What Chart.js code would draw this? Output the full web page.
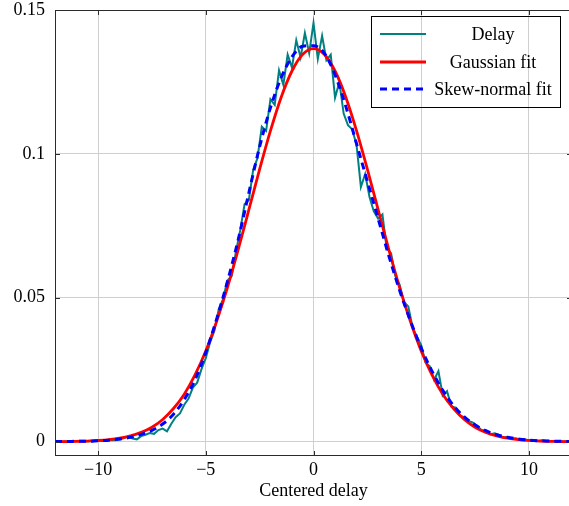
<!DOCTYPE html>
<html>
<head>
<meta charset="utf-8">
<script src="https://cdn.jsdelivr.net/npm/chart.js@4.4.1/dist/chart.umd.min.js"></script>
<style>
  html, body { margin: 0; padding: 0; background: #fff; overflow: hidden; }
  #wrap { width: 569px; height: 506px; overflow: hidden; }
</style>
</head>
<body>
<div id="wrap"><canvas id="delayChart" width="572" height="506"></canvas></div>
<script>
// histogram of the centered delay (0.2 step)
const delayX = [
  -12.0, -11.8, -11.6, -11.4, -11.2, -11.0, -10.8, -10.6, -10.4, -10.2,
  -10.0, -9.8, -9.6, -9.4, -9.2, -9.0, -8.8, -8.6, -8.4, -8.2,
  -8.0, -7.8, -7.6, -7.4, -7.2, -7.0, -6.8, -6.6, -6.4, -6.2,
  -6.0, -5.8, -5.6, -5.4, -5.2, -5.0, -4.8, -4.6, -4.4, -4.2,
  -4.0, -3.8, -3.6, -3.4, -3.2, -3.0, -2.8, -2.6, -2.4, -2.2,
  -2.0, -1.8, -1.6, -1.4, -1.2, -1.0, -0.8, -0.6, -0.4, -0.2,
  0.0, 0.2, 0.4, 0.6, 0.8, 1.0, 1.2, 1.4, 1.6, 1.8,
  2.0, 2.2, 2.4, 2.6, 2.8, 3.0, 3.2, 3.4, 3.6, 3.8,
  4.0, 4.2, 4.4, 4.6, 4.8, 5.0, 5.2, 5.4, 5.6, 5.8,
  6.0, 6.2, 6.4, 6.6, 6.8, 7.0, 7.2, 7.4, 7.6, 7.8,
  8.0, 8.2, 8.4, 8.6, 8.8, 9.0, 9.2, 9.4, 9.6, 9.8,
  10.0, 10.2, 10.4, 10.6, 10.8, 11.0, 11.2, 11.4, 11.6, 11.8,
  12.0
];
const delayY = [
  0.0000, 0.0000, 0.0000, 0.0001, 0.0000, 0.0001, 0.0001, 0.0002, 0.0001, 0.0002,
  0.0003, 0.0002, 0.0004, 0.0006, 0.0005, 0.0007, 0.0012, 0.0018, 0.0011, 0.0008,
  0.0019, 0.0024, 0.0030, 0.0027, 0.0040, 0.0045, 0.0036, 0.0062, 0.0085, 0.0098,
  0.0128, 0.0150, 0.0188, 0.0205, 0.0252, 0.0290, 0.0345, 0.0385, 0.0460, 0.0495,
  0.0560, 0.0575, 0.0660, 0.0735, 0.0825, 0.0840, 0.0945, 0.0985, 0.1095, 0.1080,
  0.1190, 0.1170, 0.1290, 0.1240, 0.1345, 0.1300, 0.1395, 0.1335, 0.1420, 0.1350,
  0.1455, 0.1330, 0.1410, 0.1325, 0.1345, 0.1195, 0.1250, 0.1140, 0.1100, 0.1085,
  0.1030, 0.0885, 0.0930, 0.0850, 0.0800, 0.0775, 0.0790, 0.0670, 0.0655, 0.0575,
  0.0545, 0.0485, 0.0470, 0.0398, 0.0365, 0.0335, 0.0275, 0.0262, 0.0215, 0.0245,
  0.0160, 0.0175, 0.0122, 0.0118, 0.0090, 0.0085, 0.0072, 0.0066, 0.0055, 0.0040,
  0.0038, 0.0025, 0.0029, 0.0024, 0.0014, 0.0016, 0.0011, 0.0012, 0.0006, 0.0008,
  0.0004, 0.0005, 0.0002, 0.0005, 0.0001, 0.0002, 0.0001, 0.0002, 0.0000, 0.0001,
  0.0000
];

// fitted curves (0.5 step)
const fitX = [
  -12, -11.5, -11, -10.5, -10, -9.5, -9, -8.5, -8, -7.5, -7, -6.5, -6, -5.5, -5, -4.5,
  -4, -3.5, -3, -2.5, -2, -1.5, -1, -0.5, 0, 0.5, 1, 1.5, 2, 2.5, 3, 3.5,
  4, 4.5, 5, 5.5, 6, 6.5, 7, 7.5, 8, 8.5, 9, 9.5, 10, 10.5, 11, 11.5, 12
];
const gaussY = [
  0.0000, 0.0000, 0.0001, 0.0002, 0.0004, 0.0007, 0.0012, 0.0020, 0.0032, 0.0050, 0.0077, 0.0115, 0.0165, 0.0232, 0.0315, 0.0417,
  0.0534, 0.0666, 0.0806, 0.0947, 0.1080, 0.1197, 0.1288, 0.1346, 0.1366, 0.1346, 0.1288, 0.1197, 0.1080, 0.0947, 0.0806, 0.0666,
  0.0534, 0.0417, 0.0315, 0.0232, 0.0165, 0.0115, 0.0077, 0.0050, 0.0032, 0.0020, 0.0012, 0.0007, 0.0004, 0.0002, 0.0001, 0.0000, 0.0000
];
const skewY = [
  0.0000, 0.0000, 0.0001, 0.0001, 0.0003, 0.0005, 0.0009, 0.0015, 0.0025, 0.0039, 0.0061, 0.0095, 0.0146, 0.0215, 0.0310, 0.0425,
  0.0555, 0.0700, 0.0865, 0.1025, 0.1160, 0.1265, 0.1337, 0.1374, 0.1376, 0.1350, 0.1275, 0.1165, 0.1035, 0.0905, 0.0775, 0.0645,
  0.0525, 0.0420, 0.0325, 0.0245, 0.0178, 0.0125, 0.0086, 0.0058, 0.0038, 0.0024, 0.0015, 0.0009, 0.0005, 0.0003, 0.0002, 0.0001, 0.0000
];

const xTicks = [-10, -5, 0, 5, 10];
const xTickLabels = ["\u221210", "\u22125", "0", "5", "10"];
const yTicks = [0, 0.05, 0.1, 0.15];
const yTickLabels = ["0", "0.05", "0.1", "0.15"];
const seriesNames = ["Delay", "Gaussian fit", "Skew-normal fit"];

const serif = "'Liberation Serif', 'Times New Roman', serif";
const toPoints = (xs, ys) => xs.map((x, i) => ({ x: x, y: ys[i] }));

// box round the plot, inward ticks, legend inside top right
const framePlugin = {
  id: "frame",
  afterDatasetsDraw(chart) {
    const { ctx, chartArea: a, scales } = chart;
    ctx.save();
    ctx.strokeStyle = "#2b2b2b";
    ctx.lineWidth = 1;
    ctx.setLineDash([]);
    ctx.strokeRect(a.left + 0.5, a.top + 0.5, a.right - a.left - 1, a.bottom - a.top - 1);
    ctx.beginPath();
    xTicks.forEach((v) => {
      const px = Math.round(scales.x.getPixelForValue(v)) + 0.5;
      ctx.moveTo(px, a.bottom); ctx.lineTo(px, a.bottom - 5);
      ctx.moveTo(px, a.top); ctx.lineTo(px, a.top + 5);
    });
    yTicks.forEach((v) => {
      const py = Math.round(scales.y.getPixelForValue(v)) + 0.5;
      ctx.moveTo(a.left, py); ctx.lineTo(a.left + 5, py);
      ctx.moveTo(a.right, py); ctx.lineTo(a.right - 5, py);
    });
    ctx.stroke();

    // legend
    const box = { x: 371.5, y: 16.5, w: 189, h: 91 };
    ctx.strokeStyle = "#000";
    ctx.strokeRect(box.x, box.y, box.w, box.h);
    const rows = [34, 62, 89];
    ctx.font = "18px " + serif;
    ctx.fillStyle = "#000";
    ctx.textAlign = "center";
    ctx.textBaseline = "middle";
    chart.data.datasets.forEach((ds, i) => {
      ctx.beginPath();
      ctx.strokeStyle = ds.borderColor;
      ctx.lineWidth = ds.borderWidth;
      ctx.setLineDash(ds.borderDash || []);
      ctx.moveTo(380, rows[i]);
      ctx.lineTo(426, rows[i]);
      ctx.stroke();
      ctx.fillText(seriesNames[i], 493, rows[i] + 1);
    });
    ctx.restore();
  }
};

const ctx = document.getElementById("delayChart").getContext("2d");
new Chart(ctx, {
  type: "line",
  data: {
    datasets: [
      {
        label: seriesNames[0],
        data: toPoints(delayX, delayY),
        borderColor: "#008080",
        borderWidth: 2,
        pointRadius: 0,
        tension: 0,
        order: 3,
      },
      {
        label: seriesNames[1],
        data: toPoints(fitX, gaussY),
        borderColor: "#ff0000",
        borderWidth: 2.8,
        pointRadius: 0,
        cubicInterpolationMode: "monotone",
        order: 2,
      },
      {
        label: seriesNames[2],
        data: toPoints(fitX, skewY),
        borderColor: "#0000ff",
        borderWidth: 3,
        borderDash: [7, 5],
        pointRadius: 0,
        cubicInterpolationMode: "monotone",
        order: 1,
      },
    ],
  },
  options: {
    responsive: false,
    animation: false,
    devicePixelRatio: 1,
    layout: { padding: { top: 10, left: 0, right: 0, bottom: 0 } },
    plugins: { legend: { display: false }, tooltip: { enabled: false } },
    scales: {
      x: {
        type: "linear",
        min: -12,
        max: 12,
        afterBuildTicks: (scale) => { scale.ticks = xTicks.map((v) => ({ value: v })); },
        afterFit: (scale) => {
          scale.height = 50;
          scale.paddingLeft = 0;
          scale.paddingRight = 0;
        },
        ticks: {
          callback: (v) => xTickLabels[xTicks.indexOf(v)],
          font: { family: serif, size: 18, lineHeight: 1 },
          color: "#000",
          padding: 5,
          maxRotation: 0,
        },
        grid: { color: "#cfcfcf", lineWidth: 1, drawTicks: false },
        border: { display: false },
        title: {
          display: true,
          text: "Centered delay",
          font: { family: serif, size: 18, lineHeight: 1 },
          color: "#000",
          padding: { top: 0, bottom: 6 },
        },
      },
      y: {
        type: "linear",
        min: -0.005,
        max: 0.15,
        afterBuildTicks: (scale) => { scale.ticks = yTicks.map((v) => ({ value: v })); },
        afterFit: (scale) => {
          scale.width = 55;
          scale.paddingTop = 0;
          scale.paddingBottom = 0;
        },
        ticks: {
          callback: (v) => yTickLabels[yTicks.indexOf(v)],
          font: { family: serif, size: 18, lineHeight: 1 },
          color: "#000",
          padding: 10,
        },
        grid: { color: "#cfcfcf", lineWidth: 1, drawTicks: false },
        border: { display: false },
      },
    },
  },
  plugins: [framePlugin],
});
</script>
</body>
</html>
